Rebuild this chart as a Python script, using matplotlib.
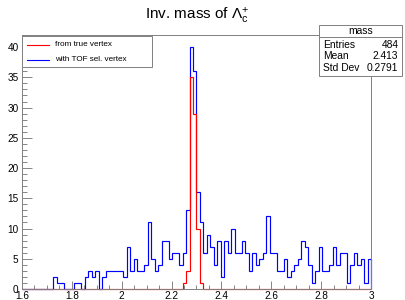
import matplotlib
matplotlib.use("Agg")
import matplotlib.pyplot as plt
from matplotlib.patches import Rectangle
from matplotlib.lines import Line2D
from matplotlib.ticker import MultipleLocator
import numpy as np

plt.rcParams['font.family'] = ['Liberation Sans', 'DejaVu Sans']
plt.rcParams['mathtext.fontset'] = 'custom'
plt.rcParams['mathtext.rm'] = 'Liberation Sans'
plt.rcParams['mathtext.it'] = 'Liberation Sans:italic'

# histogram: 100 bins from 1.6 to 3.0
x_min, x_max, n_bins = 1.6, 3.0, 100

# with TOF sel. vertex (blue)
tof_counts = [0, 0, 0, 0, 0, 0, 0, 0, 0, 2,
              1, 1, 0, 0, 0, 1, 1, 0, 2, 3,
              2, 3, 0, 2, 3, 3, 3, 3, 3, 2,
              7, 3, 5, 3, 3, 4, 11, 5, 3, 4,
              8, 8, 5, 6, 6, 4, 6, 13, 40, 36,
              16, 11, 6, 9, 7, 4, 8, 2, 8, 6,
              10, 6, 6, 8, 6, 3, 6, 4, 5, 6,
              12, 6, 6, 3, 3, 5, 2, 3, 4, 5,
              8, 7, 4, 1, 3, 7, 3, 3, 4, 7,
              4, 6, 6, 1, 4, 6, 4, 5, 1, 5]

# from true vertex (red), nonzero bins only
true_bins = [46, 47, 48, 49, 50, 51]
true_vals = [1, 3, 35, 29, 10, 1]

stat_names = ["Entries", "Mean", "Std Dev"]
stat_values = ["484", "2.413", "0.2791"]

edges = np.linspace(x_min, x_max, n_bins + 1)
true_counts = np.zeros(n_bins)
true_counts[true_bins] = true_vals

W, H = 406, 300
fig = plt.figure(figsize=(W / 100, H / 100), dpi=100)


def fx(x):
    return x / W


def fy(y):
    return 1 - y / H


ax = fig.add_axes([fx(22), fy(289), fx(371) - fx(22), fy(35) - fy(289)])
ax.stairs(tof_counts, edges, color='#0000ff', lw=0.85, clip_on=False)
ax.stairs(true_counts, edges, color='#ff0000', lw=0.85, clip_on=False)

ax.set_xlim(x_min, x_max)
ax.set_ylim(0, 42)
ax.xaxis.set_minor_locator(MultipleLocator(0.05))
ax.yaxis.set_major_locator(MultipleLocator(5))
ax.yaxis.set_minor_locator(MultipleLocator(1))
ax.set_xticks(np.arange(1.6, 3.01, 0.2))
ax.set_xticklabels(["1.6", "1.8", "2", "2.2", "2.4", "2.6", "2.8", "3"])
ax.tick_params(axis='x', which='major', direction='in', length=5.5, width=0.6,
               color='0.45', labelsize=7.2, pad=1.2)
ax.tick_params(axis='x', which='minor', direction='in', length=2.8, width=0.6,
               color='0.45')
ax.tick_params(axis='y', which='major', direction='in', length=7.5, width=0.6,
               color='0.45', labelsize=7.2, pad=2.5)
ax.tick_params(axis='y', which='minor', direction='in', length=3.8, width=0.6,
               color='0.45')
for s in ax.spines.values():
    s.set_color('0.5')
    s.set_linewidth(0.7)

# title
fig.text(fx(197), fy(20), r'Inv. mass of $\Lambda_{\mathrm{c}}^{+}$',
         ha='center', va='baseline', fontsize=11)

# legend box
fig.patches.append(Rectangle((fx(22), fy(67)), fx(152) - fx(22), fy(35.5) - fy(67),
                             transform=fig.transFigure, facecolor='white',
                             edgecolor='0.5', lw=0.7, zorder=5))
leg_labels = ["from true vertex", "with TOF sel. vertex"]
leg_colors = ['#ff0000', '#0000ff']
for i, (lab, c) in enumerate(zip(leg_labels, leg_colors)):
    yy = 44.5 + i * 15.3
    fig.lines.append(Line2D([fx(27), fx(49)], [fy(yy), fy(yy)], color=c, lw=0.8,
                            transform=fig.transFigure, zorder=6))
    fig.text(fx(55), fy(yy), lab, ha='left', va='center', fontsize=5.9, zorder=6)

# stats box
fig.patches.append(Rectangle((fx(319), fy(76)), fx(402) - fx(319), fy(25) - fy(76),
                             transform=fig.transFigure, facecolor='white',
                             edgecolor='0.5', lw=0.7, zorder=5))
fig.lines.append(Line2D([fx(319), fx(402)], [fy(36.7), fy(36.7)], color='0.5', lw=0.7,
                        transform=fig.transFigure, zorder=6))
fig.text(fx(360.5), fy(31), "mass", ha='center', va='center', fontsize=7.4, zorder=6)
for i, (n, v) in enumerate(zip(stat_names, stat_values)):
    yy = 44.5 + i * 11.6
    fig.text(fx(323), fy(yy), n, ha='left', va='center', fontsize=7.4, zorder=6)
    fig.text(fx(398.5), fy(yy), v, ha='right', va='center', fontsize=7.4, zorder=6)

fig.savefig("out.png", dpi=100)
